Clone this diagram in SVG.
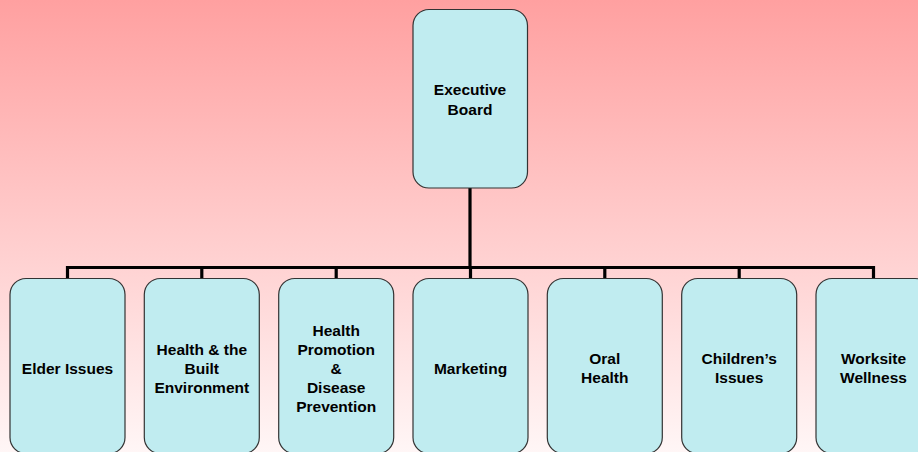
<svg xmlns="http://www.w3.org/2000/svg" width="918" height="452" viewBox="0 0 918 452">
  <defs>
    <linearGradient id="bg" x1="0" y1="0" x2="0" y2="1">
      <stop offset="0" stop-color="#FFA0A0"/>
      <stop offset="1" stop-color="#FFF6F6"/>
    </linearGradient>
    <style>
      .box { fill: #C0ECF0; stroke: #333; stroke-width: 1.2; }
      .lbl { font-family: "Liberation Sans", Arial, sans-serif; font-weight: bold; font-size: 15.5px; fill: #000; text-anchor: middle; }
      .wire { fill: none; stroke: #000; stroke-width: 3.2; }
    </style>
  </defs>

  <rect width="918" height="452" fill="url(#bg)"/>

  <!-- connectors -->
  <g id="connectors" class="wire">
    <path d="M470,188 V267.5"/>
    <path d="M67.5,267.5 H873.5"/>
    <path d="M67.5,266 V278"/>
    <path d="M201.8,266 V278"/>
    <path d="M336.2,266 V278"/>
    <path d="M470.5,266 V278"/>
    <path d="M604.8,266 V278"/>
    <path d="M739.2,266 V278"/>
    <path d="M873.5,266 V278"/>
  </g>

  <g id="executive-board">
    <rect class="box" x="413" y="9.5" width="114.5" height="178.5" rx="16"/>
    <text class="lbl" x="470" y="95">Executive</text>
    <text class="lbl" x="470" y="115">Board</text>
  </g>

  <g id="elder-issues">
    <rect class="box" x="10" y="278.5" width="115" height="175" rx="16"/>
    <text class="lbl" x="67.5" y="374">Elder Issues</text>
  </g>

  <g id="health-built-environment">
    <rect class="box" x="144.3" y="278.5" width="115" height="175" rx="16"/>
    <text class="lbl" x="201.8" y="355">Health &amp; the</text>
    <text class="lbl" x="201.8" y="374">Built</text>
    <text class="lbl" x="201.8" y="393">Environment</text>
  </g>

  <g id="health-promotion">
    <rect class="box" x="278.7" y="278.5" width="115" height="175" rx="16"/>
    <text class="lbl" x="336.2" y="336">Health</text>
    <text class="lbl" x="336.2" y="355">Promotion</text>
    <text class="lbl" x="336.2" y="374">&amp;</text>
    <text class="lbl" x="336.2" y="393">Disease</text>
    <text class="lbl" x="336.2" y="412">Prevention</text>
  </g>

  <g id="marketing">
    <rect class="box" x="413" y="278.5" width="115" height="175" rx="16"/>
    <text class="lbl" x="470.5" y="374">Marketing</text>
  </g>

  <g id="oral-health">
    <rect class="box" x="547.3" y="278.5" width="115" height="175" rx="16"/>
    <text class="lbl" x="604.8" y="364">Oral</text>
    <text class="lbl" x="604.8" y="383">Health</text>
  </g>

  <g id="childrens-issues">
    <rect class="box" x="681.7" y="278.5" width="115" height="175" rx="16"/>
    <text class="lbl" x="739.2" y="364">Children’s</text>
    <text class="lbl" x="739.2" y="383">Issues</text>
  </g>

  <g id="worksite-wellness">
    <rect class="box" x="816" y="278.5" width="115" height="175" rx="16"/>
    <text class="lbl" x="873.5" y="364">Worksite</text>
    <text class="lbl" x="873.5" y="383">Wellness</text>
  </g>
</svg>
